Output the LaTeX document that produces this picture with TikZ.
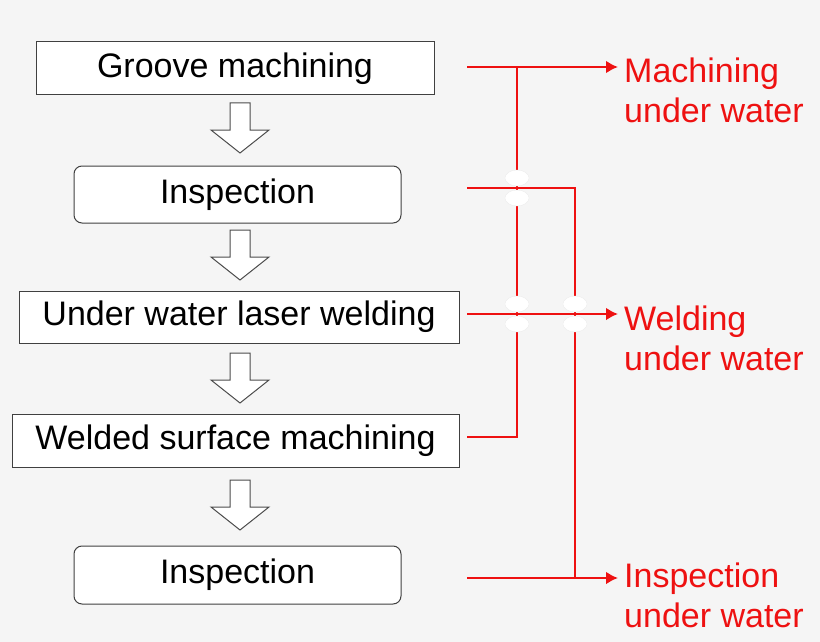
\documentclass[tikz,border=0pt]{standalone}
\usepackage{fontspec}
\setmainfont{Liberation Sans}
\usetikzlibrary{positioning,arrows.meta}
\definecolor{bg}{HTML}{F5F5F5}
\definecolor{wire}{HTML}{EE1111}
\tikzset{
  stage/.style={draw=black!75, line width=1pt, fill=white, font=\fontsize{34}{36}\selectfont, inner sep=0pt},
  check/.style={stage, rounded corners=8pt},
  flow/.style={draw=wire, line width=2.6pt},
  tip/.style={flow, -{Latex[length=12pt,width=13pt]}},
  note/.style={text=wire, font=\fontsize{34}{40}\selectfont, align=left, anchor=west, inner sep=0pt},
  hop/.style={fill=white, draw=black!8, line width=0.3pt}
}
\newcommand{\hollow}[2]{% x, top y
  \draw[black!70, line width=1pt, fill=white]
    (#1-10,#2) -- (#1+10,#2) -- (#1+10,#2+27) -- (#1+29,#2+27) -- (#1,#2+50)
    -- (#1-29,#2+27) -- (#1-10,#2+27) -- cycle;}
\begin{document}
\begin{tikzpicture}[x=1pt,y=-1pt]
  \fill[bg] (0,0) rectangle (820,642);
  \useasboundingbox (0,0) rectangle (820,642);

  % stages
  \node[stage, minimum width=398, minimum height=53] (groove) at (235,68.5) {Groove machining};
  \node[check, minimum width=327, minimum height=57] (insp1) at (237.5,194.5) {Inspection};
  \node[stage, minimum width=440, minimum height=52] (laser) at (239,317) {Under water laser welding};
  \node[stage, minimum width=447, minimum height=53] (surf) at (235.5,440.5) {Welded surface machining};
  \node[check, minimum width=327, minimum height=58] (insp2) at (237.5,575) {Inspection};

  \hollow{240}{103}
  \hollow{240}{230}
  \hollow{240}{353}
  \hollow{240}{480}

  % labels
  \node[note] (mach) at (624,90) {Machining\\under water};
  \node[note] (weld) at (624,338) {Welding\\under water};
  \node[note] (insp) at (624,595) {Inspection\\under water};

  \coordinate (mtip) at (618,67);
  \coordinate (wtip) at (618,314);
  \coordinate (itip) at (618,578);

  % wires
  \draw[flow] (467,437) -- (517,437) -- (517,67);
  \draw[flow] (467,188) -- (575,188) -- (575,578);
  \foreach \yy in {188,314} \fill[hop] (517,\yy-10) ellipse (12 and 8) (517,\yy+10) ellipse (12 and 8);
  \fill[hop] (575,304) ellipse (12 and 8) (575,324) ellipse (12 and 8);
  \draw[flow] (467,188) -- (575,188);
  \draw[tip] (467,67) -- (mtip);
  \draw[tip] (467,314) -- (wtip);
  \draw[tip] (467,578) -- (itip);
\end{tikzpicture}
\end{document}
